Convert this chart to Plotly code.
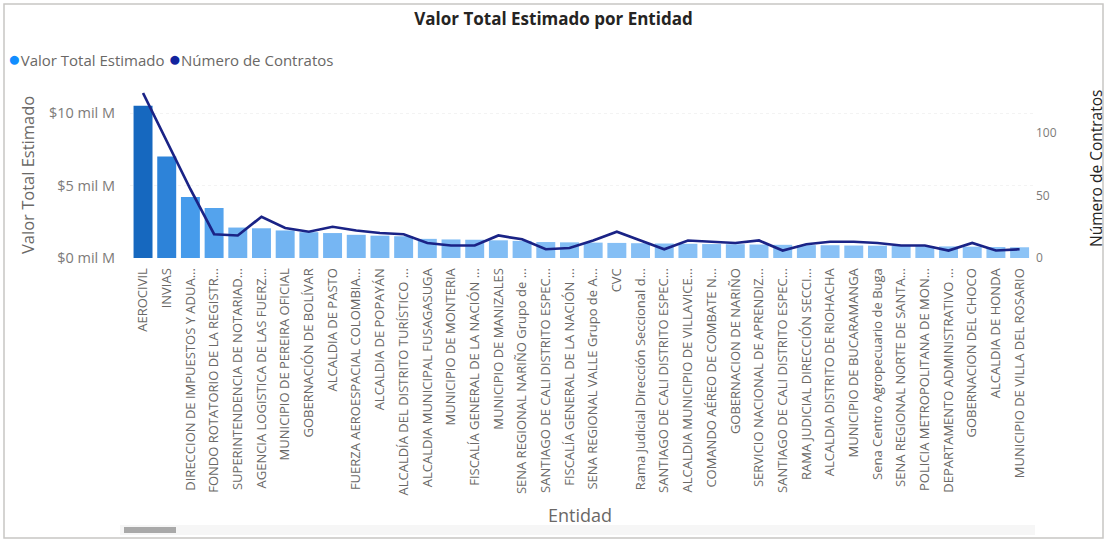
import plotly.graph_objects as go

entidades = [
    "AEROCIVIL", "INVIAS", "DIRECCION DE IMPUESTOS Y ADUA…", "FONDO ROTATORIO DE LA REGISTR…",
    "SUPERINTENDENCIA DE NOTARIAD…", "AGENCIA LOGISTICA DE LAS FUERZ…", "MUNICIPIO DE PEREIRA OFICIAL",
    "GOBERNACIÓN DE BOLÍVAR", "ALCALDIA DE PASTO", "FUERZA AEROESPACIAL COLOMBIA…",
    "ALCALDIA DE POPAYÁN", "ALCALDÍA DEL DISTRITO TURÍSTICO …", "ALCALDIA MUNICIPAL FUSAGASUGA",
    "MUNICIPIO DE MONTERIA", "FISCALÍA GENERAL DE LA NACIÓN …", "MUNICIPIO DE MANIZALES",
    "SENA REGIONAL NARIÑO Grupo de …", "SANTIAGO DE CALI DISTRITO ESPEC…", "FISCALÍA GENERAL DE LA NACIÓN …",
    "SENA REGIONAL VALLE Grupo de A…", "CVC", "Rama Judicial Dirección Seccional d…",
    "SANTIAGO DE CALI DISTRITO ESPEC…", "ALCALDIA MUNICIPIO DE VILLAVICE…", "COMANDO AÉREO DE COMBATE N…",
    "GOBERNACION DE NARIÑO", "SERVICIO NACIONAL DE APRENDIZ…", "SANTIAGO DE CALI DISTRITO ESPEC…",
    "RAMA JUDICIAL DIRECCIÓN SECCI…", "ALCALDIA DISTRITO DE RIOHACHA", "MUNICIPIO DE BUCARAMANGA",
    "Sena Centro Agropecuario de Buga", "SENA REGIONAL NORTE DE SANTA…", "POLICIA METROPOLITANA DE MON…",
    "DEPARTAMENTO ADMINISTRATIVO …", "GOBERNACION DEL CHOCO", "ALCALDIA DE HONDA",
    "MUNICIPIO DE VILLA DEL ROSARIO",
]

# Valor total estimado (miles de millones de pesos)
valor_total = [
    10.5, 7.0, 4.2, 3.45, 2.1, 2.05, 1.9, 1.78, 1.72, 1.6,
    1.54, 1.5, 1.32, 1.28, 1.26, 1.22, 1.18, 1.1, 1.08, 1.06,
    1.04, 1.02, 1.0, 0.98, 0.96, 0.95, 0.93, 0.91, 0.89, 0.88,
    0.86, 0.85, 0.83, 0.82, 0.8, 0.78, 0.76, 0.74,
]

num_contratos = [
    132, 93, 55, 19, 18, 33, 24, 21, 25, 22,
    20, 19, 12, 10, 10, 18, 15, 7, 8, 14,
    21, 14, 7, 14, 13, 12, 14, 6, 11, 13,
    13, 12, 10, 10, 6, 12, 6, 7,
]

left_ticks = [0, 5, 10]
left_tick_text = ["$0 mil M", "$5 mil M", "$10 mil M"]
right_ticks = [0, 50, 100]

idx = list(range(len(entidades)))

# plot-area geometry (px)
W, H = 1107, 542
ML, MR, MT, MB = 130, 72, 88, 284
PW = W - ML - MR
PH = H - MT - MB
def px(x):
    return (x - ML) / PW
def py(y):
    return (H - MB - y) / PH

font_family = "Open Sans, Noto Sans, sans-serif"
gray = "#6a6866"

fig = go.Figure()
fig.add_trace(go.Bar(
    x=idx, y=valor_total, name="Valor Total Estimado",
    marker=dict(color=valor_total, colorscale=[[0, "#8cc3f6"], [0.12, "#72b4f2"], [0.4, "#3d96ea"], [1, "#1668bf"]],
                line=dict(width=0)),
    width=0.8, showlegend=False, yaxis="y",
))
fig.add_trace(go.Scatter(
    x=idx, y=num_contratos, name="Número de Contratos", mode="lines",
    line=dict(color="#1a2386", width=2.7), showlegend=False, yaxis="y2",
))

legend_text = ('<span style="color:#118DFF;font-size:21px">●</span>Valor Total Estimado '
               '<span style="color:#12239E;font-size:21px">●</span>Número de Contratos')

fig.update_layout(
    width=W, height=H,
    margin=dict(l=ML, r=MR, t=MT, b=MB),
    paper_bgcolor="white", plot_bgcolor="white",
    font=dict(family=font_family, color=gray),
    title=dict(text="<b>Valor Total Estimado por Entidad</b>", x=0.5, xref="container",
               y=1 - 19 / H, yref="container", yanchor="middle", xanchor="center",
               font=dict(size=17, color="#252423")),
    showlegend=False,
    bargap=0.2,
    xaxis=dict(
        range=[-0.55, 37.65], tickmode="array", tickvals=idx, ticktext=entidades,
        tickangle=-90, tickfont=dict(size=13, color=gray), showgrid=False, zeroline=False,
        showline=False, ticks="outside", ticklen=4, tickcolor="rgba(0,0,0,0)",
    ),
    yaxis=dict(
        range=[0, PH / 14.5], tickvals=left_ticks, ticktext=left_tick_text,
        tickfont=dict(size=14.5, color="#7d7b79"), showgrid=True, gridcolor="#f3f3f3",
        griddash="dot", zeroline=False, showline=False,
        ticks="outside", ticklen=11, tickcolor="rgba(0,0,0,0)",
    ),
    yaxis2=dict(
        range=[0, PH / 1.25], tickvals=right_ticks, overlaying="y", side="right",
        tickfont=dict(size=12, color="#7d7b79"), showgrid=False, zeroline=False, showline=False,
        ticks="", ticklen=0,
    ),
    annotations=[
        dict(text=legend_text, x=px(6), y=py(58), xref="paper", yref="paper",
             xanchor="left", yanchor="middle", showarrow=False, font=dict(size=15, color=gray)),
        dict(text="Valor Total Estimado", x=px(27), y=py(175), xref="paper", yref="paper",
             xanchor="center", yanchor="middle",
             textangle=-90, showarrow=False, font=dict(size=16.5, color=gray)),
        dict(text="Número de Contratos", x=px(1096), y=py(169), xref="paper", yref="paper",
             xanchor="center", yanchor="middle",
             textangle=-90, showarrow=False, font=dict(size=15.5, color="#252423")),
        dict(text="Entidad", x=px(580), y=py(515), xref="paper", yref="paper",
             xanchor="center", yanchor="middle",
             showarrow=False, font=dict(size=18, color=gray)),
    ],
    shapes=[
        dict(type="rect", xref="paper", yref="paper", x0=px(4), x1=px(1103), y0=py(538), y1=py(4),
             line=dict(color="#c8c6c4", width=1.5), fillcolor="rgba(0,0,0,0)", layer="below"),
        dict(type="rect", xref="paper", yref="paper", x0=px(120), x1=px(1035), y0=py(535), y1=py(525),
             line=dict(width=0), fillcolor="#f6f6f6", layer="below"),
        dict(type="rect", xref="paper", yref="paper", x0=px(124), x1=px(176), y0=py(533), y1=py(527),
             line=dict(width=0), fillcolor="#a9a9a9", layer="above"),
    ],
)

fig.write_html(
    "out.html",
    config={"displayModeBar": False},
    post_script="document.body.style.margin='0';document.body.style.padding='0';document.body.style.overflow='hidden';",
)
